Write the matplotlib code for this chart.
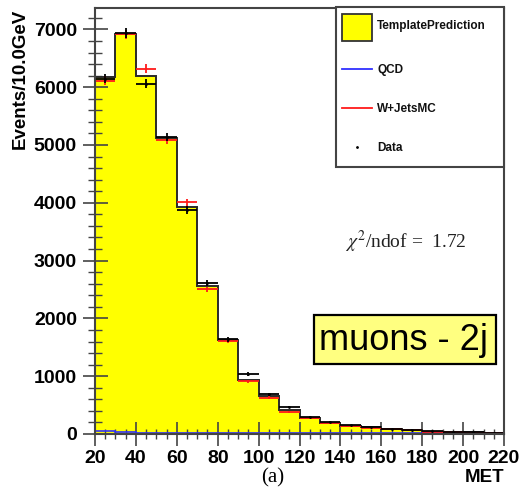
import numpy as np
import matplotlib
matplotlib.use("Agg")
import matplotlib.pyplot as plt
from matplotlib.patches import Rectangle
from matplotlib.lines import Line2D

# ---- data ----
bin_edges = [20, 30, 40, 50, 60, 70, 80, 90, 100, 110, 120, 130, 140, 150, 160, 170, 180, 190, 200, 210, 220]
template = [6180, 6925, 6200, 5128, 3935, 2560, 1630, 940, 650, 420, 285, 195, 145, 118, 82, 66, 42, 30, 27, 17]
wjets = [6110, 6915, 6320, 5090, 4010, 2500, 1615, 910, 630, 385, 276, 185, 138, 110, 78, 62, 40, 28, 25, 16]
wjets_err = [78, 83, 80, 71, 63, 50, 40, 30, 25, 20, 17, 14, 12, 10, 9, 8, 6, 5, 5, 4]
data = [6150, 6935, 6060, 5140, 3875, 2605, 1636, 1035, 686, 470, 300, 207, 150, 125, 85, 70, 45, 33, 28, 18]
data_err = [78, 83, 78, 72, 62, 51, 40, 32, 26, 22, 17, 14, 12, 11, 9, 8, 7, 6, 5, 4]
qcd = [45, 35, 12, 12, 12, 12, 12, 12, 12, 12, 12, 12, 12, 12, 12, 12, 12, 12, 12, 12]
chi2_text = r"$\chi^{2}$/ndof =  1.72"
x_ticks = [20, 40, 60, 80, 100, 120, 140, 160, 180, 200, 220]
y_ticks = [0, 1000, 2000, 3000, 4000, 5000, 6000, 7000]

plt.rcParams["mathtext.fontset"] = "stix"

W, H = 521, 493
fig = plt.figure(figsize=(W / 100, H / 100), dpi=100)
ax = fig.add_axes([95 / W, (H - 434) / H, 409 / W, 426 / H])

edges = np.array(bin_edges, dtype=float)
centers = 0.5 * (edges[:-1] + edges[1:])
halfw = 0.5 * (edges[1:] - edges[:-1])

# template prediction: filled yellow with dark outline
tmpl_step = np.append(template, template[-1])
ax.fill_between(edges, 0, tmpl_step, step="post", color="#ffff00", lw=0, zorder=1)
ax.stairs(template, edges, color="#2a2a2a", lw=1.4, zorder=2)

# QCD
ax.stairs(qcd, edges, color="#3030ff", lw=1.2, zorder=3)

# W+Jets MC
ax.errorbar(centers, wjets, xerr=halfw, yerr=wjets_err, fmt="none",
            ecolor="#ff1a1a", elinewidth=1.3, capsize=0, zorder=4)

# Data
ax.errorbar(centers, data, xerr=halfw, yerr=data_err, fmt=".", color="black",
            ms=2, ecolor="black", elinewidth=1.3, capsize=0, zorder=5)

ax.set_xlim(20, 220)
ax.set_ylim(0, 7370)

ax.set_xticks(x_ticks)
ax.set_xticks(np.arange(20, 221, 5), minor=True)
ax.set_yticks(y_ticks)
ax.set_yticks(np.arange(0, 7301, 200), minor=True)

tick_font = dict(family="Liberation Sans", weight="bold", size=14)
ax.set_xticklabels([str(v) for v in x_ticks], fontdict=tick_font)
ax.set_yticklabels([str(v) for v in y_ticks], fontdict=tick_font)

ax.tick_params(axis="both", which="major", direction="inout", color="#444444", width=1.2)
ax.tick_params(axis="x", which="major", length=17, pad=3)
ax.tick_params(axis="x", which="minor", direction="inout", length=7, width=1.0, color="#444444")
ax.tick_params(axis="y", which="major", length=18, pad=4)
ax.tick_params(axis="y", which="minor", direction="inout", length=10, width=1.0, color="#444444")

for s in ax.spines.values():
    s.set_color("#444444")
    s.set_linewidth(1.5)
    s.set_zorder(6)

def fx(px):
    return px / W

def fy(py):
    return 1 - py / H

tf = fig.transFigure

# axis labels
fig.text(fx(20), fy(9), "Events/10.0GeV", rotation=90, ha="center", va="top",
         family="Liberation Sans", weight="bold", size=13.5)
fig.text(fx(504), fy(477), "MET", ha="right", va="center",
         family="Liberation Sans", weight="bold", size=13.5)
fig.text(fx(273), fy(478), "(a)", ha="center", va="center",
         family="Liberation Serif", size=15)

# legend box
leg = Rectangle((fx(336), fy(167)), fx(504) - fx(336), fy(7) - fy(167), transform=tf,
                facecolor="white", edgecolor="#444444", lw=1.5, zorder=10)
fig.patches.append(leg)
fig.patches.append(Rectangle((fx(342), fy(41)), fx(372) - fx(342), fy(14) - fy(41), transform=tf,
                             facecolor="#ffff00", edgecolor="#333333", lw=1.3, zorder=11))
fig.lines.append(Line2D([fx(342), fx(372)], [fy(69), fy(69)], transform=tf, color="#3030ff", lw=1.3, zorder=11))
fig.lines.append(Line2D([fx(342), fx(372)], [fy(108), fy(108)], transform=tf, color="#ff1a1a", lw=1.3, zorder=11))
fig.lines.append(Line2D([fx(357)], [fy(147)], transform=tf, color="black", marker=".", ms=2, lw=0, zorder=11))
leg_font = dict(family="Liberation Sans", weight="bold", size=8.5, color="#111111", zorder=12)
for label, py in [("TemplatePrediction", 26), ("QCD", 70), ("W+JetsMC", 109), ("Data", 148)]:
    fig.text(fx(377), fy(py), label, ha="left", va="center", **leg_font)

# chi2 text
fig.text(fx(345), fy(242), chi2_text, ha="left", va="center",
         family="Liberation Serif", size=14, color="#222222")

# muons box
fig.patches.append(Rectangle((fx(314), fy(364)), fx(496) - fx(314), fy(315) - fy(364), transform=tf,
                             facecolor="#ffff80", edgecolor="black", lw=1.6, zorder=10))
fig.text(fx(403), fy(340), "muons - 2j", ha="center", va="center",
         family="Liberation Sans", size=26, color="black", zorder=12)

fig.savefig("out.png", dpi=100)
